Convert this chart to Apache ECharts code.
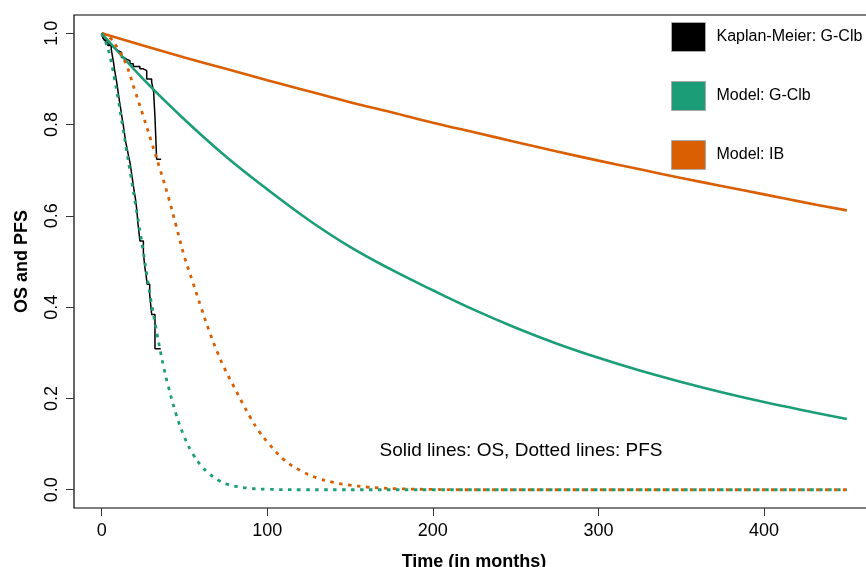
<!DOCTYPE html>
<html>
<head>
<meta charset="utf-8">
<script src="https://cdn.jsdelivr.net/npm/echarts@6/dist/echarts.min.js"></script>
<style>
  html, body { margin: 0; padding: 0; background: #fff; }
  #chart { width: 866px; height: 567px; }
</style>
</head>
<body>
<div id="chart"></div>
<script>
  // model OS curves (solid)
  const osTime = [0, 25, 50, 75, 100, 125, 150, 175, 200, 225, 250, 275, 300, 325, 350, 375, 400, 425, 450];
  const osGClb = [1, 0.900, 0.811, 0.730, 0.658, 0.591, 0.532, 0.482, 0.437, 0.394, 0.355, 0.320, 0.289, 0.261, 0.236, 0.213, 0.192, 0.173, 0.155];
  const osIB = [1, 0.973, 0.947, 0.922, 0.897, 0.873, 0.849, 0.827, 0.804, 0.783, 0.762, 0.741, 0.721, 0.702, 0.683, 0.665, 0.647, 0.629, 0.612];

  // model PFS curves (dotted)
  const pfsTimeGClb = [0, 2.5, 5, 7.5, 10, 12.5, 15, 17.5, 20, 22.5, 25, 27.5, 30, 32.5, 35, 37.5, 40, 45, 50, 55, 60, 65, 70, 75, 80, 90, 100, 120, 200, 300, 450];
  const pfsGClb = [1, 0.98, 0.95, 0.905, 0.855, 0.80, 0.745, 0.69, 0.635, 0.58, 0.525, 0.465, 0.41, 0.36, 0.312, 0.268, 0.23, 0.165, 0.115, 0.079, 0.053, 0.035, 0.022, 0.013, 0.008, 0.003, 0.001, 0, 0, 0, 0];
  const pfsTimeIB = [0, 5, 10, 15, 20, 25, 30, 35, 40, 45, 50, 55, 60, 65, 70, 75, 80, 85, 90, 95, 100, 110, 120, 130, 140, 150, 160, 170, 180, 200, 220, 300, 450];
  const pfsIB = [1, 0.99, 0.965, 0.93, 0.875, 0.82, 0.763, 0.705, 0.645, 0.578, 0.51, 0.455, 0.40, 0.347, 0.30, 0.26, 0.225, 0.19, 0.157, 0.128, 0.105, 0.066, 0.042, 0.026, 0.016, 0.010, 0.006, 0.0035, 0.002, 0.0007, 0, 0, 0];

  // Kaplan-Meier steps, G-Clb
  const kmOsTime = [0, 0.8, 1.6, 2.9, 3.9, 5.5, 6.9, 8.5, 10, 12, 13.5, 15, 17.1, 19.1, 23.1, 25.2, 27.2, 30.2, 31.4, 32.2, 33.2, 35.9];
  const kmOsSurv = [1, 0.99, 0.985, 0.98, 0.973, 0.97, 0.966, 0.962, 0.958, 0.947, 0.943, 0.94, 0.933, 0.927, 0.922, 0.918, 0.90, 0.893, 0.871, 0.816, 0.724, 0.724];
  const kmPfsTime = [0, 0.8, 1.8, 3, 4.5, 5.8, 6.5, 7.2, 7.8, 8.5, 9.2, 10, 10.8, 11.5, 12.3, 13, 13.8, 14.6, 15.5, 16.3, 17.2, 18, 18.8, 19.6, 20.5, 21.3, 22, 23.1, 25.2, 26, 26.8, 27.5, 29, 30.2, 32.2, 35.7];
  const kmPfsSurv = [1, 0.99, 0.985, 0.98, 0.975, 0.965, 0.95, 0.935, 0.92, 0.905, 0.89, 0.87, 0.85, 0.835, 0.815, 0.80, 0.78, 0.76, 0.745, 0.73, 0.715, 0.695, 0.675, 0.655, 0.635, 0.61, 0.58, 0.545, 0.52, 0.49, 0.47, 0.45, 0.428, 0.384, 0.309, 0.309];

  const xTicks = [0, 100, 200, 300, 400];
  const yTicks = [0, 0.2, 0.4, 0.6, 0.8, 1.0];

  const GREEN = "#1B9E77";
  const ORANGE = "#D95F02";
  const FONT = "'Liberation Sans', Arial, Helvetica, sans-serif";

  const pairs = (xs, ys) => xs.map((x, i) => [x, ys[i]]);

  const modelLine = (name, xs, ys, color, dotted) => ({
    name: name,
    type: "line",
    data: pairs(xs, ys),
    showSymbol: false,
    symbol: "none",
    smooth: 0.4,
    itemStyle: { color: color },
    lineStyle: dotted
      ? { color: color, width: 2.8, type: [3.5, 5.5], cap: "butt" }
      : { color: color, width: 2.6 },
    z: 3,
  });

  const kmLine = (xs, ys) => ({
    name: "Kaplan-Meier: G-Clb",
    type: "line",
    step: "end",
    data: pairs(xs, ys),
    showSymbol: false,
    symbol: "none",
    itemStyle: { color: "#000" },
    lineStyle: { color: "#000", width: 1.5 },
    z: 2,
  });

  const chart = echarts.init(document.getElementById("chart"));
  chart.setOption({
    animation: false,
    textStyle: { fontFamily: FONT },
    grid: {
      left: 74,
      right: -8,
      top: 15,
      bottom: 59,
      outerBoundsMode: "none",
      show: true,
      borderColor: "#000",
      borderWidth: 1.2,
    },
    legend: {
      orient: "vertical",
      left: 666,
      top: 17,
      itemWidth: 34,
      itemHeight: 29,
      itemGap: 29,
      icon: "rect",
      selectedMode: false,
      textStyle: { fontSize: 16, color: "#000", fontFamily: FONT, padding: [0, 0, 0, 6] },
      data: [
        { name: "Kaplan-Meier: G-Clb", itemStyle: { color: "#000", borderColor: "#aaa", borderWidth: 1 } },
        { name: "Model: G-Clb", itemStyle: { color: GREEN, borderColor: "#aaa", borderWidth: 1 } },
        { name: "Model: IB", itemStyle: { color: ORANGE, borderColor: "#aaa", borderWidth: 1 } },
      ],
    },
    xAxis: {
      type: "value",
      min: -16.7,
      max: 466.4,
      name: "Time (in months)",
      nameLocation: "middle",
      nameGap: 45,
      nameTextStyle: { fontSize: 18, fontWeight: "bold", color: "#000", fontFamily: FONT },
      axisLine: { show: false, onZero: false },
      splitLine: { show: false },
      axisTick: { customValues: xTicks, length: 8, lineStyle: { color: "#333" } },
      axisLabel: { customValues: xTicks, fontSize: 18, color: "#000", margin: 14 },
    },
    yAxis: {
      type: "value",
      min: -0.04,
      max: 1.04,
      name: "OS and PFS",
      nameLocation: "middle",
      nameGap: 43,
      nameTextStyle: { fontSize: 18, fontWeight: "bold", color: "#000", fontFamily: FONT },
      axisLine: { show: false, onZero: false },
      splitLine: { show: false },
      axisTick: { customValues: yTicks, length: 8, lineStyle: { color: "#333" } },
      axisLabel: {
        customValues: yTicks,
        fontSize: 18,
        color: "#000",
        rotate: 90,
        margin: 13,
        formatter: v => v.toFixed(1),
      },
    },
    graphic: [
      {
        type: "text",
        x: 521,
        y: 451,
        style: {
          text: "Solid lines: OS, Dotted lines: PFS",
          fontSize: 19,
          fontFamily: FONT,
          fill: "#000",
          align: "center",
          verticalAlign: "middle",
        },
      },
    ],
    series: [
      kmLine(kmOsTime, kmOsSurv),
      kmLine(kmPfsTime, kmPfsSurv),
      modelLine("Model: IB", osTime, osIB, ORANGE, false),
      modelLine("Model: G-Clb", osTime, osGClb, GREEN, false),
      modelLine("Model: IB", pfsTimeIB, pfsIB, ORANGE, true),
      modelLine("Model: G-Clb", pfsTimeGClb, pfsGClb, GREEN, true),
    ],
  });
</script>
</body>
</html>
